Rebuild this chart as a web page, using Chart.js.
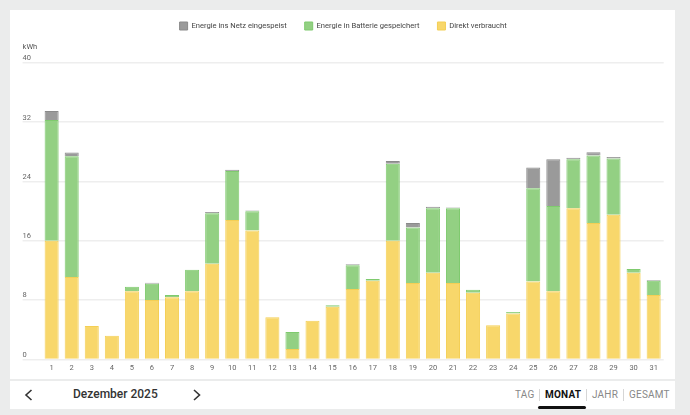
<!DOCTYPE html>
<html>
<head><meta charset="utf-8"><title>Energie Dezember 2025</title>
<script src="https://cdn.jsdelivr.net/npm/chart.js"></script>
<style>
  html,body{margin:0;padding:0;}
  body{width:690px;height:415px;background:#ebecec;position:relative;overflow:hidden;font-family:Roboto,sans-serif;}
  .card{position:absolute;left:10px;width:665px;background:#fff;}
  #top{top:10px;height:369px;}
  #nav{top:381px;height:28px;}
  #wrap{position:absolute;left:10px;top:0;width:665px;height:378px;}
  .t{position:absolute;white-space:nowrap;line-height:1;}
  .month{left:73px;top:388px;font-size:12px;font-weight:500;color:#333;}
  .tab{top:390px;font-size:10px;color:#888;letter-spacing:0.2px;}
  .tab.on{color:#111;font-weight:700;}
  .sep{position:absolute;top:389px;width:1px;height:12px;background:#d6d6d6;}
  .bar{position:absolute;left:538px;top:406px;width:48px;height:3px;background:#111;border-radius:1.5px;}
  svg{position:absolute;}
</style>
</head>
<body>
<div class="card" id="top"></div>
<div class="card" id="nav"></div>
<div id="wrap"><canvas id="chart"></canvas></div>

<svg style="left:24px;top:389px" width="10" height="12"><polyline points="7.5,1 2,6 7.5,11" fill="none" stroke="#333" stroke-width="1.6"/></svg>
<div class="t month">Dezember 2025</div>
<svg style="left:192px;top:389px" width="10" height="12"><polyline points="2,1 7.5,6 2,11" fill="none" stroke="#333" stroke-width="1.6"/></svg>

<div class="t tab" style="left:515px">TAG</div>
<div class="sep" style="left:539px"></div>
<div class="t tab on" style="left:545px">MONAT</div>
<div class="sep" style="left:586px"></div>
<div class="t tab" style="left:592px">JAHR</div>
<div class="sep" style="left:623px"></div>
<div class="t tab" style="left:629px">GESAMT</div>
<div class="bar"></div>

<script>
const days = ['1','2','3','4','5','6','7','8','9','10','11','12','13','14','15','16',
  '17','18','19','20','21','22','23','24','25','26','27','28','29','30','31'];
// kWh pro Tag
const direkt   = [16.0, 11.1, 4.5, 3.2, 9.2, 8.0, 8.4, 9.2, 12.9, 18.8, 17.4, 5.7, 1.4, 5.2, 7.1, 9.5,
  10.6, 16.0, 10.3, 11.7, 10.3, 9.0, 4.6, 6.2, 10.5, 9.2, 20.4, 18.4, 19.5, 11.7, 8.7];
const batterie = [16.3, 16.3, 0, 0, 0.6, 2.2, 0.3, 2.9, 6.8, 6.6, 2.6, 0, 2.3, 0, 0.2, 3.2,
  0.25, 10.4, 7.5, 8.7, 10.1, 0.4, 0, 0.2, 12.6, 11.5, 6.6, 9.1, 7.6, 0.5, 1.9];
const netz     = [1.2, 0.5, 0, 0, 0, 0.15, 0, 0, 0.2, 0.2, 0.1, 0, 0, 0, 0, 0.15,
  0, 0.35, 0.6, 0.2, 0.1, 0, 0, 0, 2.8, 6.3, 0.2, 0.45, 0.2, 0, 0.1];
const yTicks = [0, 8, 16, 24, 32, 40];

Chart.defaults.font.family = 'Roboto, sans-serif';

new Chart(document.getElementById('chart'), {
  type: 'bar',
  data: {
    labels: days,
    datasets: [
      { label: 'Direkt verbraucht', data: direkt, backgroundColor: '#f8d76b', borderColor: '#f4cf55', borderWidth: 1 },
      { label: 'Energie in Batterie gespeichert', data: batterie, backgroundColor: '#93d083', borderColor: '#7fca6e', borderWidth: 1 },
      { label: 'Energie ins Netz eingespeist', data: netz, backgroundColor: '#9a9a9a', borderColor: '#8a8a8a', borderWidth: 1 }
    ]
  },
  options: {
    responsive: true,
    maintainAspectRatio: false,
    animation: false,
    categoryPercentage: 0.7,
    barPercentage: 1,
    layout: { padding: { top: 4, left: 12.6, right: 11.3, bottom: 1 } },
    plugins: {
      legend: {
        reverse: true,
        maxHeight: 28,
        labels: { boxWidth: 8, boxHeight: 8, padding: 18, color: '#444', font: { size: 7.6 } }
      },
      subtitle: {
        display: true, text: 'kWh', align: 'start', position: 'top', weight: 500,
        color: '#555', font: { size: 7.5 }, padding: { top: 10.6, bottom: 11.3 }
      },
      tooltip: { enabled: false }
    },
    scales: {
      x: {
        stacked: true,
        grid: { display: false, drawTicks: false },
        border: { display: false },
        ticks: { color: '#666', font: { size: 7.5 }, padding: 4.3, maxRotation: 0, autoSkip: false }
      },
      y: {
        stacked: true,
        min: 0, max: 40,
        afterBuildTicks: s => { s.ticks = yTicks.map(v => ({ value: v })); },
        afterFit: s => { s.width = 19; },
        grid: { color: '#eeeeee', lineWidth: 1.5, tickLength: 19 },
        border: { display: false },
        ticks: { mirror: true, padding: -19, labelOffset: -4.5, color: '#666', font: { size: 7.5 } }
      }
    }
  }
});
</script>
</body>
</html>
